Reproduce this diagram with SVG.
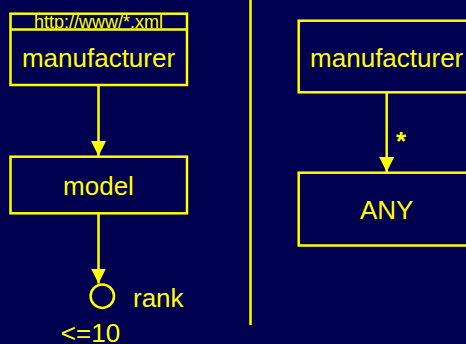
<svg xmlns="http://www.w3.org/2000/svg" width="466" height="344" viewBox="0 0 466 344">
  <style>
    .box { fill: none; stroke: #ffff00; stroke-width: 2.5; }
    .edge { fill: none; stroke: #ffff00; stroke-width: 2.5; }
    .lbl { font-family: "Liberation Sans", Arial, sans-serif; font-size: 26px; fill: #ffff00; }
    .hdr { font-family: "Liberation Sans", Arial, sans-serif; font-size: 18px; fill: #ffff00; }
    .mid { text-anchor: middle; }
    .star { font-weight: bold; }
  </style>
  <defs>
    <marker id="arrow" markerUnits="userSpaceOnUse" markerWidth="17" markerHeight="17" viewBox="0 0 17 17" refX="15" refY="8.5" orient="auto">
      <path d="M0,1 L15,8.5 L0,16 Z" fill="#ffff00"/>
    </marker>
    <clipPath id="hdrClip">
      <rect x="10" y="13" width="177" height="16"/>
    </clipPath>
  </defs>

  <rect x="0" y="0" width="466" height="344" fill="#000050"/>

  <!-- separator between the two panels -->
  <line x1="250.5" y1="0" x2="250.5" y2="325" class="edge"/>

  <g id="connectors">
    <line x1="98.5" y1="85" x2="98.5" y2="156" class="edge" marker-end="url(#arrow)"/>
    <line x1="98.5" y1="213.5" x2="98.5" y2="283.5" class="edge" marker-end="url(#arrow)"/>
    <line x1="386.7" y1="92.3" x2="386.7" y2="172" class="edge" marker-end="url(#arrow)"/>
    <text x="396" y="150" class="lbl star">*</text>
  </g>

  <g id="manufacturer-left">
    <rect x="10.5" y="13.7" width="176.5" height="71.3" class="box"/>
    <text x="98.5" y="28" class="hdr mid" clip-path="url(#hdrClip)">http://www/*.xml</text>
    <line x1="10.5" y1="29.5" x2="187" y2="29.5" class="edge"/>
    <text x="98.5" y="66.7" class="lbl mid">manufacturer</text>
  </g>

  <g id="model">
    <rect x="10.5" y="156.7" width="176.5" height="56.6" class="box"/>
    <text x="98.5" y="195" class="lbl mid">model</text>
  </g>

  <g id="rank">
    <circle cx="102.3" cy="296.2" r="11.7" class="box"/>
    <text x="133" y="307.3" class="lbl">rank</text>
    <text x="90.5" y="341.5" class="lbl mid">&lt;=10</text>
  </g>

  <g id="manufacturer-right">
    <rect x="298.7" y="20.7" width="176" height="71.6" class="box"/>
    <text x="386.7" y="66.7" class="lbl mid">manufacturer</text>
  </g>

  <g id="any">
    <rect x="298.7" y="172.7" width="176" height="72.8" class="box"/>
    <text x="386.7" y="219" class="lbl mid">ANY</text>
  </g>
</svg>
